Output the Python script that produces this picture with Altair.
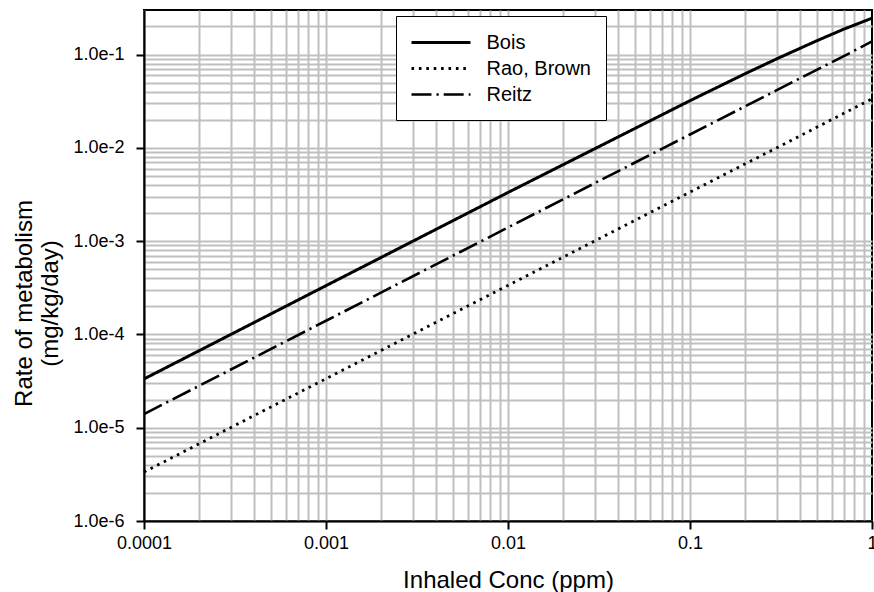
import json
import altair as alt
import pandas as pd

# ---- data ----
conc = [0.0001, 0.001, 0.01, 0.1, 0.2, 0.3, 0.5, 0.7, 1.0]
bois = [3.33e-5, 3.33e-4, 3.32e-3, 3.2e-2, 6.2e-2, 9.0e-2, 0.141, 0.187, 0.245]
rao_brown = [3.35e-6, 3.35e-5, 3.35e-4, 3.35e-3, 6.7e-3, 1.0e-2, 1.67e-2, 2.34e-2, 3.35e-2]
reitz = [1.4e-5, 1.4e-4, 1.4e-3, 1.39e-2, 2.77e-2, 4.15e-2, 6.9e-2, 9.6e-2, 0.138]

series_names = ["Bois", "Rao, Brown", "Reitz"]
x_tick_labels = ["0.0001", "0.001", "0.01", "0.1", "1"]
y_tick_labels = ["1.0e-6", "1.0e-5", "1.0e-4", "1.0e-3", "1.0e-2", "1.0e-1"]

x_grid_values = [m * 10.0 ** e for e in range(-4, 0) for m in range(1, 10)] + [1.0]
y_grid_values = [m * 10.0 ** e for e in range(-6, -1) for m in range(1, 10)] + [0.1, 0.2, 0.3]

rows = []
for name, vals in zip(series_names, [bois, rao_brown, reitz]):
    for c, v in zip(conc, vals):
        rows.append({"conc": c, "rate": v, "model": name})
df = pd.DataFrame(rows)

FONT = "Liberation Sans"
decade = "abs(log(datum.value)/LN10 - round(log(datum.value)/LN10)) < 1e-6"

x_axis = alt.Axis(
    orient="bottom",
    values=x_grid_values,
    labelExpr=f"{decade} ? {json.dumps(x_tick_labels)}[round(log(datum.value)/LN10) + 4] : ''",
    labelOverlap=False,
    labelFlush=False,
    labelFont=FONT,
    labelFontSize=18,
    labelColor="black",
    labelPadding=5,
    tickOpacity={"condition": {"test": decade, "value": 1}, "value": 0},
    tickColor="black",
    tickWidth=2,
    tickSize=8,
    domainColor="black",
    domainWidth=2,
    grid=True,
    gridColor="#c0c0c0",
    gridWidth=2,
    gridOpacity={"condition": {"test": "datum.value > 0.99", "value": 0}, "value": 1},
    title="Inhaled Conc (ppm)",
    titleFont=FONT,
    titleFontSize=24,
    titleFontWeight="normal",
    titleColor="black",
    titleBaseline="alphabetic",
    titleY=66,
)

y_axis = alt.Axis(
    orient="left",
    values=y_grid_values,
    labelExpr=f"{decade} ? {json.dumps(y_tick_labels)}[round(log(datum.value)/LN10) + 6] : ''",
    labelOverlap=False,
    labelFlush=False,
    labelFont=FONT,
    labelFontSize=18,
    labelColor="black",
    labelPadding=12,
    tickOpacity={"condition": {"test": decade, "value": 1}, "value": 0},
    tickColor="black",
    tickWidth=2,
    tickSize=8,
    domainColor="black",
    domainWidth=2,
    grid=True,
    gridColor="#c0c0c0",
    gridWidth=2,
    gridOpacity={"condition": {"test": "datum.value > 0.29", "value": 0}, "value": 1},
    title=["Rate of metabolism", "(mg/kg/day)"],
    titleFont=FONT,
    titleFontSize=24,
    titleFontWeight="normal",
    titleColor="black",
    titleAngle=270,
    titleAlign="center",
    titleBaseline="alphabetic",
    titleLineHeight=26,
    titleX=-113,
    titleY=293,
)

legend = alt.Legend(
    title=None,
    orient="none",
    legendX=252,
    legendY=6,
    direction="vertical",
    fillColor="white",
    strokeColor="black",
    padding=15,
    labelFont=FONT,
    labelFontSize=20,
    labelColor="black",
    labelOffset=34,
    rowPadding=4,
    symbolType="M-2.95,0L2.95,0",
    symbolSize=400,
    symbolStrokeWidth=2.3,
    symbolOffset=18.5,
    symbolStrokeColor="black",
    symbolFillColor="transparent",
)

chart = (
    alt.Chart(df)
    .mark_line(color="black")
    .encode(
        x=alt.X("conc:Q", scale=alt.Scale(type="log", domain=[1e-4, 1], nice=False), axis=x_axis),
        y=alt.Y("rate:Q", scale=alt.Scale(type="log", domain=[1e-6, 0.3], nice=False), axis=y_axis),
        strokeDash=alt.StrokeDash(
            "model:N",
            scale=alt.Scale(domain=series_names, range=[[1, 0], [2.6, 4.8], [20, 5, 2.2, 5]]),
            legend=legend,
        ),
        strokeWidth=alt.StrokeWidth(
            "model:N",
            scale=alt.Scale(domain=series_names, range=[3, 2.6, 2]),
            legend=None,
        ),
    )
    .properties(
        width=728,
        height=511,
        autosize=alt.AutoSizeParams(type="none"),
        padding={"left": 144, "top": 10, "right": 2, "bottom": 71},
        background="white",
    )
    .configure_view(stroke="black", strokeWidth=2)
)

chart.save("out.html", embed_options={"renderer": "svg", "actions": False})
